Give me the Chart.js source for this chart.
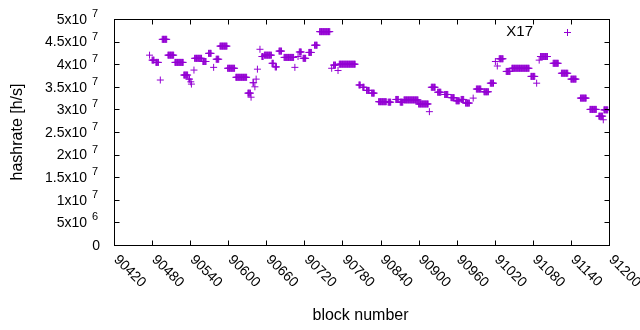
<!DOCTYPE html>
<html><head><meta charset="utf-8">
<script src="https://cdn.jsdelivr.net/npm/chart.js@4/dist/chart.umd.min.js"></script>
<style>html,body{margin:0;padding:0;background:#fff}#wrap{width:640px;height:330px}</style>
</head><body><div id="wrap"><canvas id="c" width="640" height="330"></canvas></div>
<script>
// runs of consecutive blocks sharing the same hashrate estimate (H/s)
const runStart = [90476,90480,90486,90493,90496,90505,90516,90530,90538,90541,90542,90546,90547,90560,90569,90577,90581,90587,90599,90612,90631,90636,90639,90642,90644,90646,90650,90653,90657,90669,90674,90680,90688,90705,90710,90712,90718,90727,90736,90744,90763,90766,90773,90775,90806,90812,90818,90826,90837,90852,90864,90871,90877,90900,90917,90920,90930,90941,90951,90959,90967,90974,90986,90991,91003,91013,91021,91024,91027,91038,91047,91077,91086,91090,91092,91112,91125,91140,91155,91170,91184,91191,91192];
const runEnd   = [90476,90483,90490,90493,90503,90514,90529,90536,90539,90541,90542,90546,90558,90565,90573,90577,90585,90598,90610,90629,90635,90636,90640,90642,90644,90646,90650,90655,90668,90671,90676,90684,90703,90705,90710,90715,90722,90731,90740,90760,90763,90769,90773,90800,90808,90814,90822,90830,90849,90856,90868,90875,90899,90915,90917,90926,90935,90946,90956,90964,90971,90980,90986,90998,91010,91018,91021,91024,91033,91044,91074,91083,91086,91090,91103,91120,91135,91148,91164,91180,91190,91191,91198];
const runHashrate = [4.20,4.09,4.04,3.65,4.55,4.20,4.04,3.76,3.67,3.61,3.56,3.87,4.13,4.06,4.24,3.93,4.11,4.40,3.91,3.71,3.36,3.27,3.59,3.50,3.67,3.89,4.33,4.17,4.20,4.02,3.94,4.29,4.15,3.93,4.17,4.27,4.13,4.26,4.42,4.72,3.91,3.98,3.86,4.00,3.54,3.49,3.42,3.36,3.17,3.16,3.22,3.16,3.21,3.12,2.95,3.49,3.38,3.33,3.26,3.19,3.22,3.14,3.25,3.45,3.39,3.58,4.06,3.96,4.12,3.84,3.91,3.73,3.58,4.09,4.17,4.02,3.80,3.67,3.25,3.00,2.85,2.77,2.99].map(v => v * 1e7);

const xTicks = [90420,90480,90540,90600,90660,90720,90780,90840,90900,90960,91020,91080,91140,91200];
const yTicks = [0,5e6,1e7,1.5e7,2e7,2.5e7,3e7,3.5e7,4e7,4.5e7,5e7];
const yTickMantissa = ['0','5x10','1x10','1.5x10','2x10','2.5x10','3x10','3.5x10','4x10','4.5x10','5x10'];
const yTickExponent = ['','6','7','7','7','7','7','7','7','7','7'];
const seriesName = 'X17';

const points = [];
for (let i = 0; i < runStart.length; i++) {
  for (let b = runStart[i]; b <= runEnd[i]; b++) points.push({x: b, y: runHashrate[i]});
}

const COLOR = '#9400d3';
const FONT = '"Liberation Sans", Arial, sans-serif';

const decor = {
  id: 'decor',
  afterDraw(chart) {
    const ctx = chart.ctx, a = chart.chartArea, xs = chart.scales.x, ys = chart.scales.y;
    ctx.save();
    ctx.strokeStyle = '#000'; ctx.lineWidth = 1;
    const L = Math.round(a.left) + 0.5, R = Math.round(a.right) + 0.5, T = Math.round(a.top) + 0.5, B = Math.round(a.bottom) + 0.5;
    ctx.beginPath();
    xTicks.forEach(v => {
      const p = Math.round(xs.getPixelForValue(v)) + 0.5;
      ctx.moveTo(p, B); ctx.lineTo(p, B - 5);
      ctx.moveTo(p, T); ctx.lineTo(p, T + 5);
    });
    yTicks.forEach(v => {
      const p = Math.round(ys.getPixelForValue(v)) + 0.5;
      ctx.moveTo(L, p); ctx.lineTo(L + 5, p);
      ctx.moveTo(R, p); ctx.lineTo(R - 5, p);
    });
    ctx.stroke();
    ctx.strokeRect(L, T, R - L, B - T);

    ctx.fillStyle = '#000';
    // y tick labels
    yTicks.forEach((v, i) => {
      const p = ys.getPixelForValue(v);
      ctx.textBaseline = 'middle';
      if (yTickExponent[i]) {
        ctx.font = '14px ' + FONT; ctx.textAlign = 'right';
        ctx.fillText(yTickMantissa[i], 87, p + 1);
        ctx.font = '11px ' + FONT; ctx.textAlign = 'left';
        ctx.fillText(yTickExponent[i], 92, p - 5);
      } else {
        ctx.font = '14px ' + FONT; ctx.textAlign = 'right';
        ctx.fillText(yTickMantissa[i], 100, p + 1);
      }
    });
    // x tick labels, rotated
    ctx.font = '14px ' + FONT;
    xTicks.forEach(v => {
      const p = xs.getPixelForValue(v);
      ctx.save();
      ctx.translate(p + 2, B + 12);
      ctx.rotate(Math.PI / 4);
      ctx.textAlign = 'left'; ctx.textBaseline = 'middle';
      ctx.fillText(String(v), 0, 0);
      ctx.restore();
    });
    // axis titles
    ctx.font = '16px ' + FONT; ctx.textAlign = 'center'; ctx.textBaseline = 'middle';
    ctx.fillText('block number', (a.left + a.right) / 2 - 1, 316);
    ctx.save();
    ctx.translate(18, (a.top + a.bottom) / 2);
    ctx.rotate(-Math.PI / 2);
    ctx.fillText('hashrate [h/s]', 0, 0);
    ctx.restore();
    // legend
    ctx.font = '15px ' + FONT; ctx.textAlign = 'right'; ctx.textBaseline = 'middle';
    ctx.fillText(seriesName, 533, 32);
    ctx.strokeStyle = COLOR;
    ctx.beginPath();
    ctx.moveTo(567.5, 29); ctx.lineTo(567.5, 36);
    ctx.moveTo(564, 32.5); ctx.lineTo(571, 32.5);
    ctx.stroke();
    ctx.restore();
  }
};

new Chart(document.getElementById('c'), {
  type: 'scatter',
  data: { datasets: [{ label: seriesName, data: points, pointStyle: 'cross', radius: 3.5, hoverRadius: 3.5,
    borderColor: COLOR, backgroundColor: COLOR, borderWidth: 1 }] },
  options: {
    animation: false, responsive: false, events: [],
    layout: { padding: { left: 0, right: 31, top: 19, bottom: 0 } },
    plugins: { legend: { display: false }, tooltip: { enabled: false } },
    scales: {
      x: { type: 'linear', min: 90420, max: 91200, ticks: { display: false }, grid: { display: false }, border: { display: false },
           afterFit(s) { s.height = 85; } },
      y: { min: 0, max: 5e7, ticks: { display: false }, grid: { display: false }, border: { display: false },
           afterFit(s) { s.width = 114; } }
    }
  },
  plugins: [decor]
});
</script>
</body></html>
